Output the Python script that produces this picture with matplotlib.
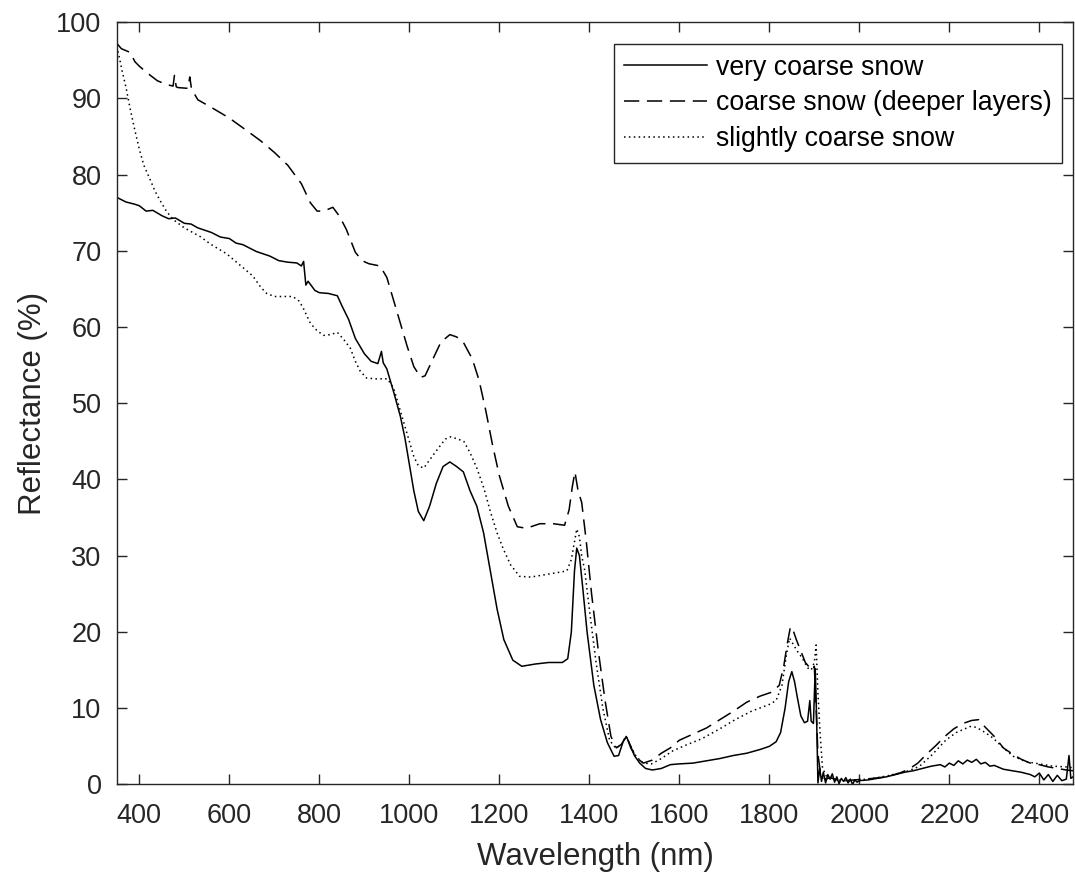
import numpy as np
import matplotlib
matplotlib.use("Agg")
from matplotlib import pyplot as plt

# spectra as (wavelength nm, reflectance %)
very_coarse = np.array([
    (350, 77.0), (370, 76.4), (390, 76.1), (400, 75.9), (415, 75.2), (430, 75.3), (450, 74.6),
    (465, 74.2), (480, 74.3), (500, 73.6), (515, 73.5), (530, 73.0), (560, 72.4), (580, 71.8),
    (600, 71.6), (615, 71.0), (630, 70.8), (660, 69.9), (690, 69.3), (710, 68.7), (730, 68.5),
    (750, 68.4), (760, 68.0), (765, 68.6), (770, 65.5), (775, 66.0), (790, 64.8), (800, 64.5),
    (820, 64.4), (840, 64.1), (850, 62.8), (865, 61.0), (880, 58.5), (900, 56.5), (915, 55.5),
    (930, 55.2), (938, 56.8), (942, 55.3), (950, 54.5), (965, 51.5), (980, 48.3), (990, 45.5),
    (1000, 42.0), (1010, 38.5), (1020, 35.8), (1032, 34.6), (1045, 36.5), (1060, 39.5), (1075, 41.7),
    (1090, 42.3), (1105, 41.7), (1120, 41.0), (1135, 38.5), (1150, 36.5), (1165, 33.0), (1180, 28.0),
    (1195, 23.0), (1210, 19.0), (1230, 16.3), (1250, 15.5), (1280, 15.8), (1310, 16.0), (1340, 16.0),
    (1352, 16.5), (1360, 20.0), (1367, 28.0), (1372, 31.0), (1378, 30.0), (1385, 26.0), (1395, 20.0),
    (1410, 13.0), (1425, 8.5), (1440, 5.5), (1455, 3.7), (1465, 3.8), (1475, 5.6), (1482, 6.3),
    (1490, 5.3), (1500, 3.8), (1512, 2.8), (1525, 2.1), (1540, 1.9), (1560, 2.1), (1580, 2.6),
    (1600, 2.7), (1630, 2.8), (1660, 3.1), (1690, 3.4), (1720, 3.8), (1750, 4.1), (1780, 4.6),
    (1800, 5.0), (1815, 5.6), (1825, 6.8), (1835, 10.0), (1843, 13.5), (1850, 14.8), (1856, 13.5),
    (1862, 11.5), (1870, 9.0), (1878, 8.1), (1885, 8.3), (1890, 11.0), (1893, 8.3), (1898, 8.0),
    (1902, 15.2), (1905, 9.0), (1908, 0.2), (1912, 2.1), (1916, 0.4), (1920, 1.6), (1925, 0.2),
    (1930, 1.3), (1935, 0.7), (1940, 1.4), (1945, 0.3), (1950, 1.0), (1955, 0.1), (1960, 0.8),
    (1965, 0.4), (1970, 0.9), (1975, 0.2), (1980, 0.7), (1985, 0.0), (1990, 0.6), (1995, 0.3),
    (2000, 0.5), (2020, 0.6), (2040, 0.8), (2060, 1.0), (2080, 1.3), (2100, 1.6), (2120, 1.8),
    (2140, 2.1), (2160, 2.4), (2180, 2.6), (2190, 2.3), (2200, 2.8), (2210, 2.5), (2220, 3.1),
    (2230, 2.7), (2240, 3.2), (2250, 2.9), (2260, 3.3), (2270, 2.7), (2280, 2.9), (2290, 2.4),
    (2300, 2.5), (2320, 2.0), (2340, 1.8), (2360, 1.6), (2380, 1.3), (2390, 1.0), (2400, 1.5),
    (2410, 0.6), (2420, 1.3), (2430, 0.4), (2440, 1.2), (2450, 0.5), (2460, 0.7), (2466, 3.8),
    (2470, 0.8), (2475, 1.0),
])

coarse_deep = np.array([
    (350, 97.2), (360, 96.5), (380, 96.0), (390, 94.8), (400, 94.2), (420, 93.2), (440, 92.3),
    (460, 91.8), (475, 91.6), (478, 93.0), (482, 91.5), (486, 91.4), (508, 91.3), (512, 92.8),
    (516, 91.2), (530, 89.8), (560, 88.8), (600, 87.4), (640, 85.7), (670, 84.4), (700, 82.9),
    (730, 81.2), (760, 78.8), (780, 76.3), (795, 75.2), (810, 75.2), (830, 75.7), (845, 74.5),
    (860, 72.8), (880, 69.8), (895, 68.7), (910, 68.3), (935, 68.0), (950, 66.5), (965, 63.5),
    (980, 60.5), (995, 57.5), (1010, 54.8), (1025, 53.4), (1035, 53.6), (1050, 55.5), (1070, 58.0),
    (1090, 59.0), (1105, 58.7), (1120, 58.0), (1140, 55.8), (1155, 53.0), (1170, 49.0), (1185, 44.5),
    (1200, 40.5), (1220, 36.5), (1240, 33.8), (1260, 33.6), (1290, 34.2), (1320, 34.2), (1345, 34.0),
    (1355, 36.0), (1362, 39.0), (1368, 41.0), (1375, 38.5), (1383, 37.0), (1393, 32.0), (1405, 25.0),
    (1420, 17.5), (1435, 11.0), (1448, 6.3), (1460, 4.8), (1472, 5.3), (1482, 6.4), (1492, 4.8),
    (1505, 3.5), (1520, 2.8), (1540, 3.2), (1560, 4.1), (1580, 4.8), (1600, 5.8), (1630, 6.6),
    (1660, 7.4), (1690, 8.5), (1720, 9.6), (1750, 10.8), (1780, 11.6), (1805, 12.1), (1822, 13.0),
    (1832, 15.5), (1840, 18.5), (1847, 20.7), (1853, 20.2), (1860, 19.0), (1870, 17.5), (1880, 16.0),
    (1890, 15.3), (1896, 15.0), (1900, 15.5), (1904, 10.0), (1908, 4.0), (1913, 1.8), (1918, 1.0),
    (1925, 0.7), (1935, 0.9), (1950, 0.6), (1970, 0.5), (1990, 0.6), (2010, 0.7), (2030, 0.8),
    (2060, 1.0), (2090, 1.5), (2110, 2.0), (2130, 2.8), (2150, 4.0), (2170, 5.1), (2190, 6.3),
    (2210, 7.3), (2230, 8.0), (2250, 8.4), (2265, 8.5), (2280, 7.5), (2300, 6.3), (2320, 4.8),
    (2340, 4.0), (2360, 3.3), (2380, 2.8), (2400, 2.6), (2420, 2.3), (2440, 2.1), (2460, 1.9),
    (2475, 1.8),
])

slightly_coarse = np.array([
    (350, 96.8), (355, 95.5), (362, 93.5), (370, 91.5), (380, 88.5), (390, 85.8), (400, 83.3),
    (410, 81.2), (422, 79.6), (435, 77.8), (445, 76.7), (460, 75.2), (475, 74.1), (500, 73.0),
    (534, 71.9), (560, 70.8), (594, 69.6), (620, 68.3), (652, 66.7), (670, 65.2), (683, 64.4),
    (700, 64.0), (720, 64.0), (741, 64.0), (755, 63.4), (764, 62.5), (780, 60.5), (795, 59.5),
    (810, 58.9), (825, 59.0), (840, 59.3), (855, 58.3), (869, 57.2), (880, 55.5), (891, 54.2),
    (905, 53.3), (925, 53.2), (951, 53.2), (965, 52.0), (980, 49.0), (996, 45.8), (1010, 43.0),
    (1020, 41.8), (1032, 41.5), (1048, 42.8), (1063, 44.0), (1080, 45.3), (1092, 45.6), (1108, 45.3),
    (1121, 45.0), (1135, 43.5), (1150, 41.5), (1166, 38.8), (1180, 35.8), (1195, 33.0), (1208, 31.0),
    (1225, 28.8), (1245, 27.3), (1270, 27.2), (1300, 27.5), (1330, 27.8), (1350, 28.0), (1360, 29.5),
    (1366, 31.5), (1372, 33.5), (1378, 32.5), (1383, 30.0), (1390, 28.0), (1400, 23.0), (1415, 16.0),
    (1430, 10.0), (1445, 5.8), (1458, 4.8), (1470, 5.1), (1482, 6.3), (1492, 5.0), (1505, 3.6),
    (1520, 2.8), (1538, 2.7), (1560, 3.4), (1585, 4.4), (1612, 5.1), (1650, 6.0), (1690, 7.3),
    (1724, 8.5), (1760, 9.6), (1800, 10.5), (1815, 11.0), (1828, 13.0), (1838, 17.0), (1845, 19.2),
    (1852, 18.5), (1862, 17.5), (1873, 16.6), (1885, 15.3), (1893, 15.0), (1900, 16.0), (1904, 18.3),
    (1908, 12.0), (1913, 6.5), (1918, 2.3), (1925, 1.2), (1935, 0.8), (1950, 0.6), (1970, 0.5),
    (2000, 0.6), (2030, 0.8), (2060, 1.1), (2090, 1.5), (2110, 1.8), (2134, 2.4), (2160, 3.8),
    (2192, 5.8), (2215, 6.8), (2246, 7.6), (2260, 7.5), (2280, 6.8), (2297, 6.1), (2320, 4.8),
    (2342, 3.7), (2370, 3.0), (2400, 2.7), (2430, 2.4), (2460, 2.3), (2475, 2.2),
])

labels = ['very coarse snow', 'coarse snow (deeper layers)', 'slightly coarse snow']
xticks = np.arange(400, 2401, 200)
yticks = np.arange(0, 101, 10)

plt.rcParams['font.family'] = ['Liberation Sans', 'DejaVu Sans']
dark = '#262626'

fig = plt.figure(figsize=(10.75, 8.77), dpi=100)
ax = fig.add_axes([0.1087, 0.1055, 0.8895, 0.8694])

ax.plot(very_coarse[:, 0], very_coarse[:, 1], color='k', lw=1.1, label=labels[0])
ax.plot(coarse_deep[:, 0], coarse_deep[:, 1], color='k', lw=1.1, dashes=(10, 5), label=labels[1])
ax.plot(slightly_coarse[:, 0], slightly_coarse[:, 1], color='k', lw=1.1, dashes=(1, 2.2),
        label=labels[2])

ax.set_xlim(350, 2475)
ax.set_ylim(0, 100)
ax.set_xticks(xticks)
ax.set_yticks(yticks)
ax.tick_params(direction='in', length=7, width=1, colors=dark, labelsize=19.5,
               top=True, right=True)
ax.tick_params(axis='y', pad=11)
ax.tick_params(axis='x', pad=13)
for s in ax.spines.values():
    s.set_color(dark)
    s.set_linewidth(1.0)

ax.set_xlabel('Wavelength (nm)', fontsize=22.5, color=dark, labelpad=10)
ax.set_ylabel('Reflectance (%)', fontsize=22.5, color=dark, labelpad=6)

leg = ax.legend(loc='upper right', bbox_to_anchor=(1062 / 1075, 1 - 44 / 877),
                bbox_transform=fig.transFigure, borderaxespad=0,
                fontsize=19.2, handlelength=3.1, handletextpad=0.32,
                labelspacing=0.36, borderpad=0.4, fancybox=False, framealpha=1,
                edgecolor=dark)
leg.get_frame().set_linewidth(1.0)

fig.savefig('out.png', dpi=100)
